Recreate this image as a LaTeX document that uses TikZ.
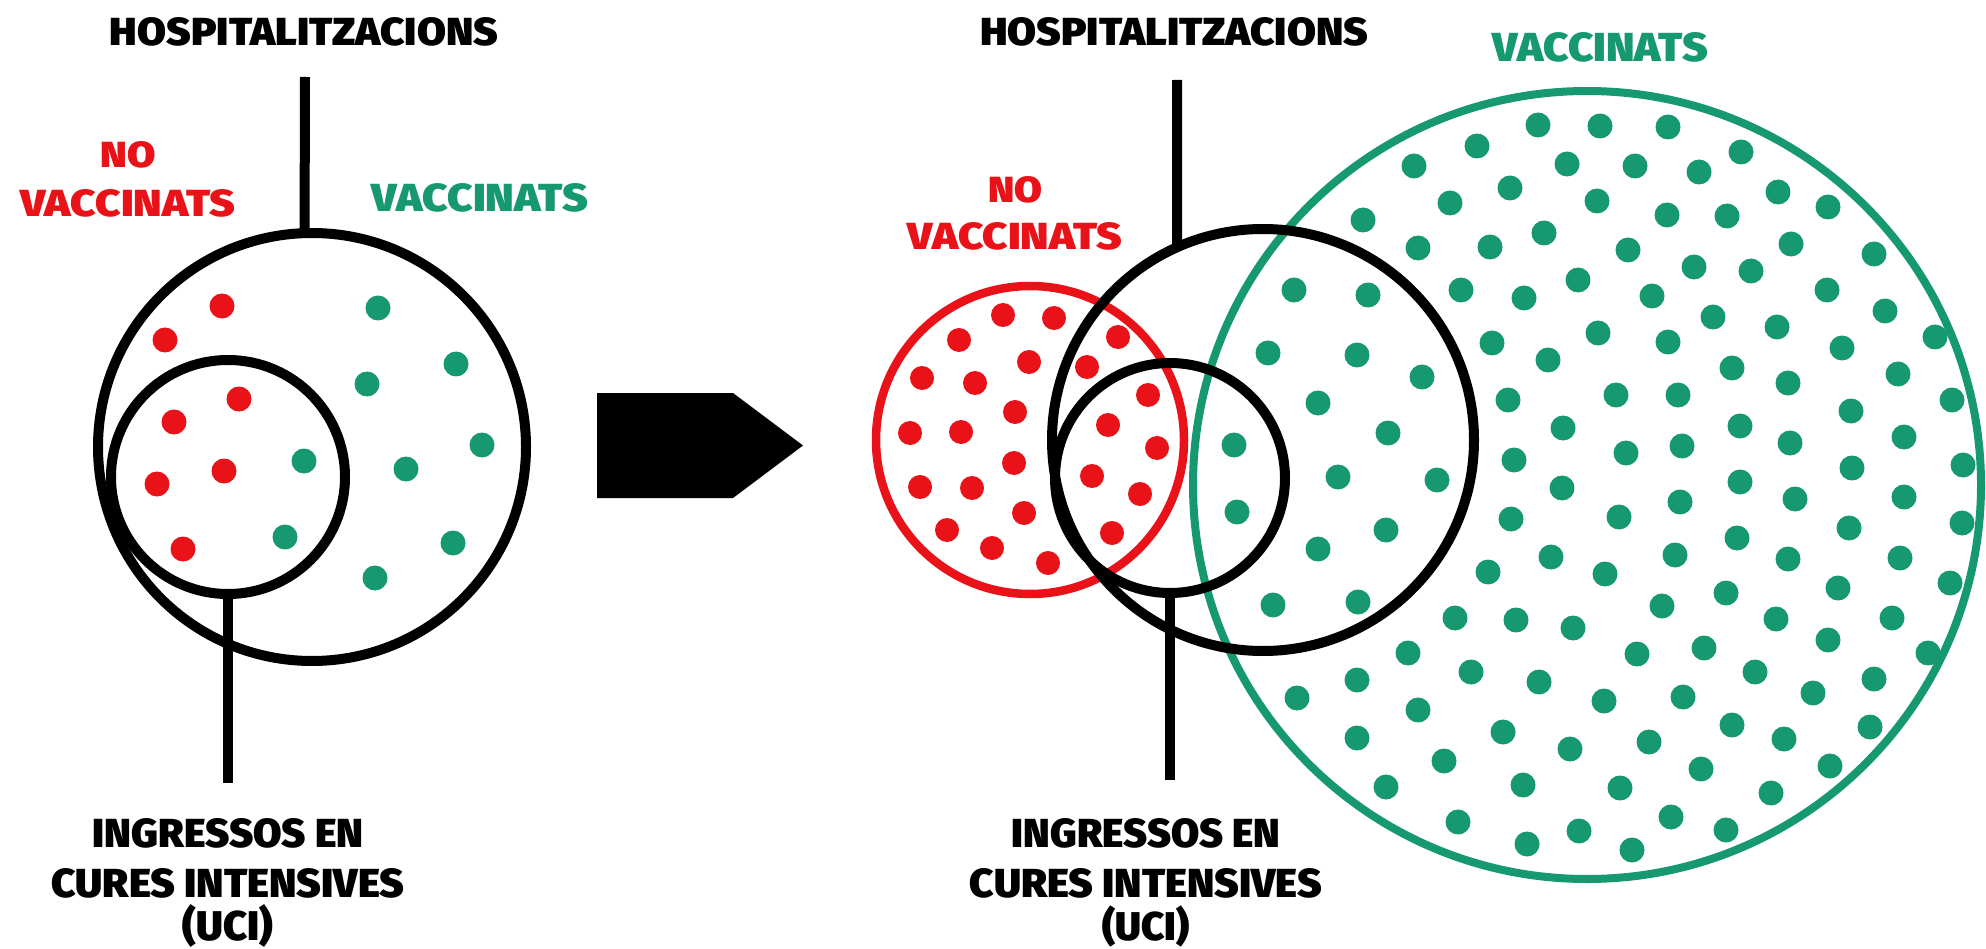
\documentclass[tikz,border=0pt]{standalone}
\usepackage{fontspec}
\usepackage{graphicx}
\IfFontExistsTF{Fira Sans Black}{\newfontfamily\heavy{Fira Sans Black}}{%
\IfFontExistsTF{Fira Sans Heavy}{\newfontfamily\heavy{Fira Sans Heavy}}{%
\IfFontExistsTF{Lato Black}{\newfontfamily\heavy{Lato Black}}{%
\newfontfamily\heavy{DejaVu Sans Bold}}}}
\definecolor{vred}{RGB}{232,18,24}
\definecolor{vgreen}{RGB}{22,152,112}
\newcommand{\fitlbl}[3]{\resizebox{#1pt}{#2pt}{\heavy #3}}
\newcommand{\fitw}[2]{\resizebox{#1pt}{!}{\heavy #2}}
\begin{document}
\begin{tikzpicture}[x=1pt,y=-1pt,
  lab/.style={anchor=base,inner sep=0pt,outer sep=0pt},
  ring/.style={circle,draw=black,line width=10pt,inner sep=0pt,outer sep=0pt},
  lead/.style={draw=black,line width=10pt},
  rdot/.style={fill=vred},
  gdot/.style={fill=vgreen}]
\useasboundingbox (0,0) rectangle (1986,949);
\fill[white] (0,0) rectangle (1986,949);

% ---------- left diagram ----------
\node[ring,minimum size=428pt] (hospL) at (312,447) {};
\node[ring,minimum size=234pt] (uciL) at (228,477) {};
\coordinate (hLtop) at (305,77);
\coordinate (uLbot) at (228,783);
\draw[lead] (hLtop) -- (hospL.92);
\draw[lead] (uciL.south) -- (uLbot);

\foreach \p in {(222,306),(165,340),(239,399),(174,422),(224,471),(157,484),(183,549)}
  \fill[rdot] \p circle (12.5pt);
\foreach \p in {(378,308),(456,364),(367,384),(482,445),(304,461),(406,469),(285,537),(453,543),(375,578)}
  \fill[gdot] \p circle (12.5pt);

\node[lab] (hospLlab) at (304,46) {\fitlbl{388}{28}{HOSPITALITZACIONS}};
\node[lab,text=vred] (noL1) at (128,168) {\fitlbl{55}{26}{NO}};
\node[lab,text=vred] (noL2) at (128,216.5) {\fitlbl{215}{27}{VACCINATS}};
\node[lab,text=vgreen] (vacL) at (480,212) {\fitlbl{216}{28}{VACCINATS}};
\node[lab] (uciL1) at (228,847) {\fitlbl{271}{29}{INGRESSOS EN}};
\node[lab] (uciL2) at (228,897) {\fitlbl{353}{29}{CURES INTENSIVES}};
\node[lab] (uciL3) at (228,940) {\fitw{90}{(UCI)}};

% ---------- arrow ----------
\fill[black] (597,393) -- (733,393) -- (803,445.5) -- (733,498) -- (597,498) -- cycle;

% ---------- right diagram ----------
\node[circle,draw=vred,line width=8.5pt,inner sep=0pt,outer sep=0pt,minimum size=308pt] (novac) at (1030,440) {};
\node[circle,draw=vgreen,line width=8pt,inner sep=0pt,outer sep=0pt,minimum size=788pt] (vac) at (1587,485) {};
\node[ring,minimum size=422pt] (hospR) at (1263,440) {};
\node[ring,minimum size=230pt] (uciR) at (1170,478) {};
\coordinate (hRtop) at (1177,80);
\coordinate (uRbot) at (1170,780);
\draw[lead] (hRtop) -- (hospR.114);
\draw[lead] (uciR.south) -- (uRbot);

\foreach \p in {(1003,315),(1054,318),(959,340),(1118,337),(1029,362),(1087,367),(922,378),(975,383),(1148,395),(1015,412),(1108,425),(910,433),(961,432),(1157,448),(1014,463),(1092,476),(920,487),(972,488),(1140,494),(1024,513),(947,530),(1112,533),(992,548),(1048,563)}
  \fill[rdot] \p circle (12pt);

\foreach \p in {(1538,125),(1600,126),(1668,127),(1477,146),(1741,152),(1414,166),(1567,164),(1635,166),(1699,172),(1510,188),
(1778,192),(1450,203),(1597,201),(1828,207),(1667,215),(1727,216),(1363,220),(1544,233),(1791,244),(1418,248),
(1490,247),(1628,250),(1874,254),(1694,267),(1751,271),(1578,280),(1294,290),(1368,295),(1461,290),(1524,298),
(1652,296),(1827,290),(1885,311),(1713,317),(1777,327),(1598,333),(1935,337),(1668,342),(1492,343),(1842,348),
(1268,353),(1357,355),(1548,360),(1732,368),(1898,374),(1422,377),(1788,383),(1616,395),(1678,395),(1952,400),
(1318,403),(1508,400),(1851,411),(1740,426),(1388,433),(1563,428),(1904,437),(1682,446),(1790,443),(1626,453),
(1234,445),(1514,460),(1963,465),(1852,468),(1338,477),(1437,480),(1562,488),(1740,482),(1680,502),(1795,499),
(1904,497),(1237,512),(1386,530),(1511,519),(1318,549),(1551,557),(1605,574),(1488,572),(1273,605),(1358,602),
(1455,618),(1516,620),(1573,628),(1408,653),(1471,672),(1357,680),(1539,682),(1297,698),(1418,710),(1604,701),
(1503,732),(1357,738),(1570,749),(1444,761),(1386,787),(1523,785),(1458,822),(1579,831),(1527,844),(1619,517),
(1737,538),(1849,528),(1962,523),(1675,555),(1788,559),(1900,558),(1838,588),(1950,583),(1726,593),(1662,606),
(1776,619),(1892,618),(1637,654),(1704,648),(1828,640),(1928,653),(1755,672),(1874,679),(1813,693),(1683,697),
(1732,725),(1870,727),(1649,742),(1784,739),(1701,769),(1830,766),(1620,788),(1771,793),(1671,817),(1726,830),
(1632,850)}
  \fill[gdot] \p circle (12.5pt);

\node[lab] (hospRlab) at (1174,45.5) {\fitlbl{388}{28}{HOSPITALITZACIONS}};
\node[lab,text=vred] (noR1) at (1015,203) {\fitlbl{54}{26}{NO}};
\node[lab,text=vred] (noR2) at (1015,250) {\fitlbl{214}{27}{VACCINATS}};
\node[lab,text=vgreen] (vacR) at (1600.5,62) {\fitlbl{215}{29}{VACCINATS}};
\node[lab] (uciR1) at (1146,847) {\fitlbl{268}{29}{INGRESSOS EN}};
\node[lab] (uciR2) at (1146,897) {\fitlbl{352}{29}{CURES INTENSIVES}};
\node[lab] (uciR3) at (1146,940) {\fitw{87}{(UCI)}};
\end{tikzpicture}
\end{document}
